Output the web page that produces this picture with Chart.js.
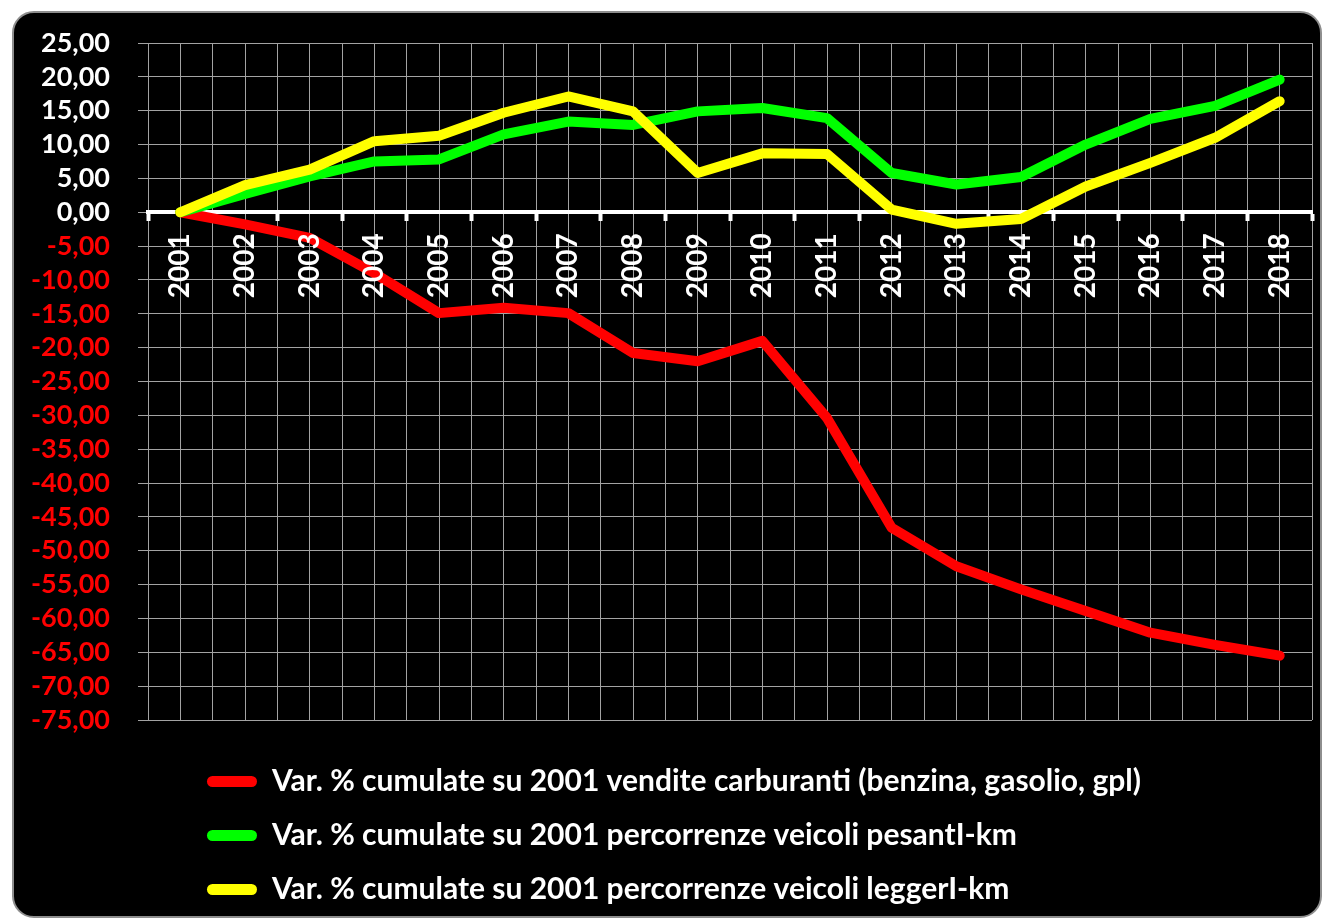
<!DOCTYPE html>
<html><head><meta charset="utf-8">
<script src="https://cdn.jsdelivr.net/npm/chart.js@4.4.1/dist/chart.umd.min.js"></script>
<style>
html,body{margin:0;padding:0;background:#fff;}
#frame{position:absolute;left:12px;top:11px;width:1310px;height:907px;box-sizing:border-box;border:2px solid #8e8e8e;border-radius:22px;background:#000;overflow:hidden;}
#wrap{position:relative;width:1306px;height:903px;}
</style></head><body>
<div id="frame"><div id="wrap"><canvas id="c"></canvas></div></div>
<script>
const years = [2001,2002,2003,2004,2005,2006,2007,2008,2009,2010,2011,2012,2013,2014,2015,2016,2017,2018];
const carburanti = [0,-1.8,-3.8,-9.0,-14.9,-14.1,-14.9,-20.8,-22.0,-19.0,-30.4,-46.6,-52.3,-55.7,-58.9,-62.1,-63.9,-65.5];
const pesanti = [0,2.7,5.3,7.5,7.8,11.5,13.4,12.9,14.9,15.4,13.9,5.8,4.1,5.2,10.0,13.8,15.7,19.6];
const leggeri = [0,4.0,6.3,10.5,11.3,14.7,17.1,14.9,5.8,8.7,8.6,0.4,-1.7,-1.0,3.8,7.3,11.0,16.4];
const seriesNames = [
  'Var. % cumulate su 2001 vendite carburanti (benzina, gasolio, gpl)',
  'Var. % cumulate su 2001 percorrenze veicoli pesantI-km',
  'Var. % cumulate su 2001 percorrenze veicoli leggerI-km'
];
const seriesColors = ['#ff0000', '#00ff00', '#ffff00'];
const yMin = -75, yMax = 25, yStep = 5;

const FONT = 'Lato, "Open Sans", sans-serif';

const legendShift = {
  id: 'legendShift',
  afterLayout(chart) {
    const lg = chart.legend;
    if (lg) { lg.left = chart.chartArea.left + 35; }
  }
};

function mk(i, data, order) {
  return {
    label: seriesNames[i], data: data,
    borderColor: seriesColors[i], backgroundColor: seriesColors[i],
    borderWidth: 10, borderCapStyle: 'round', borderJoinStyle: 'round',
    pointRadius: 0, tension: 0, order: order, fill: false
  };
}

new Chart(document.getElementById('c'), {
  type: 'line',
  data: {
    labels: years,
    datasets: [mk(0, carburanti, 2), mk(1, pesanti, 1), mk(2, leggeri, 0)]
  },
  plugins: [legendShift],
  options: {
    responsive: true, maintainAspectRatio: false, animation: false, events: [],
    layout: { padding: { left: 0, top: 30, right: 8, bottom: 1.5 } },
    scales: {
      x: {
        type: 'linear', position: { y: 0 },
        min: years[0] - 0.5, max: years[years.length - 1] + 0.5,
        afterFit: (s) => { s.paddingLeft = 0; s.paddingRight = 0; s.paddingTop = 0; s.paddingBottom = 0; },
        grid: {
          color: '#a3a3a3', lineWidth: 1, drawTicks: true, tickLength: 7,
          tickColor: (c) => Number.isInteger(c.tick && c.tick.value) ? 'rgba(0,0,0,0)' : '#ffffff',
          tickWidth: 4
        },
        border: { display: true, color: '#ffffff', width: 4 },
        ticks: {
          stepSize: 0.5, autoSkip: false, maxRotation: 90, minRotation: 90, padding: 14, z: 1,
          color: '#ffffff', font: { family: FONT, size: 28, weight: 'bold' },
          callback: (v) => Number.isInteger(v) ? String(v) : ''
        }
      },
      y: {
        min: yMin, max: yMax,
        afterFit: (s) => { s.width = 134; s.paddingTop = 0; s.paddingBottom = 0; },
        grid: { color: '#a3a3a3', lineWidth: 1, tickLength: 10, tickColor: '#a3a3a3' },
        border: { display: false },
        ticks: {
          stepSize: yStep, padding: 28, autoSkip: false,
          color: (c) => c.tick.value < 0 ? '#ff0000' : '#ffffff',
          font: { family: FONT, size: 27, weight: 'bold' },
          callback: (v) => v.toFixed(2).replace('.', ',')
        }
      }
    },
    plugins: {
      tooltip: { enabled: false },
      legend: {
        position: 'bottom', align: 'start',
        title: { display: true, text: '', font: { size: 22.5, lineHeight: 1 }, padding: 0 },
        labels: {
          color: '#ffffff', font: { family: FONT, size: 30, weight: 'bold' },
          boxWidth: 50, boxHeight: 11, padding: 24,
          useBorderRadius: true, borderRadius: 5.5,
          sort: (a, b) => a.datasetIndex - b.datasetIndex,
          generateLabels: (chart) => Chart.defaults.plugins.legend.labels.generateLabels(chart).map(it => Object.assign(it, { lineWidth: 0 }))
        }
      }
    }
  }
});
</script>
</body></html>
